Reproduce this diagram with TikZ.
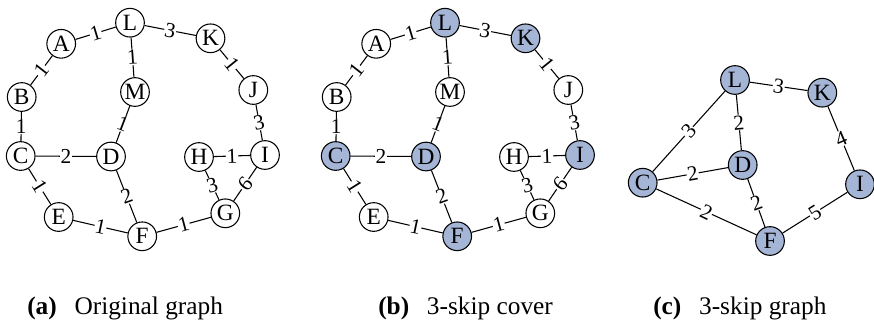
\documentclass[tikz,border=0pt]{standalone}
\usepackage{fontspec}
\setmainfont{Liberation Serif}
\definecolor{nodeblue}{RGB}{165,181,214}
\begin{document}
\begin{tikzpicture}[x=0.75pt,y=-0.75pt,
  vtx/.style={circle,draw=black,line width=0.8pt,fill=white,minimum size=21.5pt,inner sep=0pt,font=\fontsize{17.5}{19}\selectfont},
  fvtx/.style={vtx,fill=nodeblue},
  lbl/.style={fill=white,inner sep=0.5pt,font=\fontsize{16}{18}\selectfont},
  edg/.style={line width=0.8pt,draw=black},
  captext/.style={anchor=base west,inner sep=0pt,font=\fontsize{19}{22}\selectfont}]
\useasboundingbox (0,0) rectangle (874,322);
% ---------- (a) original graph ----------
\foreach \n/\x/\y in {L/130/22.7, A/61.2/43.8, K/210.5/38.3, B/21.7/97, M/135/92, J/253.3/90,
  C/20.7/156, D/111/156.5, H/199/157, I/265/155, E/58.7/217, F/142.2/236.3, G/225.3/213.3}
  \node[vtx] (a\n) at (\x,\y) {\n};
% ---------- (b) 3-skip cover ----------
\foreach \n/\x/\y/\s in {L/130/22.7/fvtx, A/61.2/43.8/vtx, K/210.5/38.3/fvtx, B/21.7/97/vtx, M/135/92/vtx, J/253.3/90/vtx,
  C/20.7/156/fvtx, D/111/156.5/fvtx, H/199/157/vtx, I/265/155/fvtx, E/58.7/217/vtx, F/142.2/236.3/fvtx, G/225.3/213.3/vtx}
  \node[\s] (b\n) at (\x+315,\y) {\n};
% edges of (a) and (b)
\foreach \g in {a,b}{
  \foreach \u/\v/\w/\r in {A/L/1/17, L/K/3/-11, B/A/1/52, L/M/1/4, K/J/1/-51, B/C/1/0, D/M/1/-21,
    J/I/3/11, C/D/2/0, H/I/1/2, C/E/1/-58, D/F/2/20, H/G/3/15, G/I/6/50, E/F/1/-12, F/G/1/15}
    \draw[edg] (\g\u) -- node[lbl,rotate=\r] {\w} (\g\v);
}
% ---------- (c) 3-skip graph ----------
\foreach \n/\x/\y in {L/735/80, K/822.3/92.7, D/742.7/165, C/642.7/182.7, I/860/184.3, F/770/241}
  \node[fvtx] (c\n) at (\x,\y) {\n};
\foreach \u/\v/\w/\r in {C/L/3/48, L/K/3/-8, L/D/2/5, C/D/2/10, D/F/2/20, C/F/2/-25, K/I/4/23, F/I/5/32}
  \draw[edg] (c\u) -- node[lbl,rotate=\r] {\w} (c\v);
% ---------- captions ----------
\node[captext] (capa) at (27,314) {\textbf{(a)}\hspace{0.7em}Original graph};
\node[captext] (capb) at (378,314) {\textbf{(b)}\hspace{0.7em}3-skip cover};
\node[captext] (capc) at (653,314) {\textbf{(c)}\hspace{0.7em}3-skip graph};
\end{tikzpicture}
\end{document}
